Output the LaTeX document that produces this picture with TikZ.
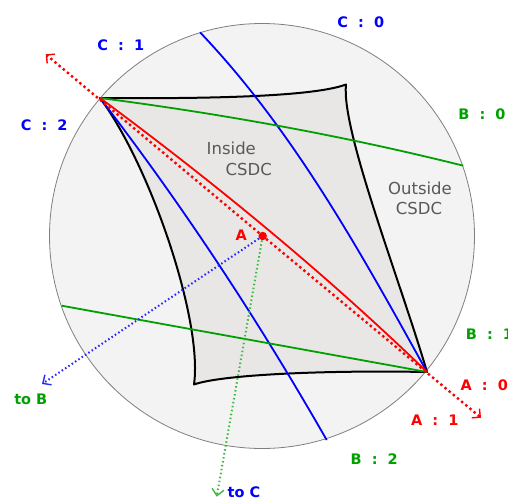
\documentclass[tikz,border=0pt]{standalone}
\usepackage{fontspec}
\setmainfont{DejaVu Sans}
\usetikzlibrary{arrows.meta}
\definecolor{cblue}{HTML}{0000FF}
\definecolor{bgreen}{HTML}{00A000}
\definecolor{ared}{HTML}{FF0000}
\definecolor{rimgray}{HTML}{7F7F7F}
\definecolor{diskfill}{HTML}{F3F3F3}
\definecolor{regionfill}{HTML}{E8E7E6}
\definecolor{textgray}{HTML}{595959}

\begin{document}
\begin{tikzpicture}[
    x=1pt, y=-1pt,
    every node/.style={inner sep=0pt},
    disk/.style={
        circle, draw=rimgray, line width=0.8pt, fill=diskfill,
        minimum size=425pt
    },
    region/.style={
        draw=black, line width=2pt, fill=regionfill, line join=round
    },
    cline/.style={cblue, line width=1.8pt},
    bline/.style={bgreen, line width=1.8pt},
    aline/.style={ared, line width=1.8pt},
    reddots/.style={ared, line width=2.4pt, dash pattern=on 2.4pt off 3pt,
        -{Straight Barb[length=6pt, width=12pt, line width=1.4pt]}},
    bluedots/.style={cblue!85, line width=2pt, dash pattern=on 1.5pt off 2.5pt,
        -{Straight Barb[length=6.5pt, width=12pt, line width=1.4pt]}},
    greendots/.style={bgreen!75, line width=2pt, dash pattern=on 1.5pt off 2.5pt,
        -{Straight Barb[length=6.5pt, width=12pt, line width=1.4pt]}},
    apoint/.style={circle, fill=ared, minimum size=8.5pt},
    cmark/.style={font=\fontsize{14.5}{16}\selectfont\bfseries, text=cblue, anchor=base},
    bmark/.style={font=\fontsize{14.5}{16}\selectfont\bfseries, text=bgreen, anchor=base},
    amark/.style={font=\fontsize{14.5}{16}\selectfont\bfseries, text=ared, anchor=base},
    zonetext/.style={font=\fontsize{16.5}{20}\selectfont, text=textgray, anchor=base},
]
\useasboundingbox (0,0) rectangle (508,500);

% === disk ===
\node[disk] (disk) at (262,236) {};

% === CSDC region ===
\coordinate (P2) at (100,98);
\coordinate (Q1) at (346,84.5);
\coordinate (P0) at (427,372);
\coordinate (Q3) at (194,384.5);
\draw[region] (P2) .. controls (220,99) and (315,96) .. (Q1)
    .. controls (341,130) and (400,280) .. (P0)
    .. controls (320,370) and (220,375) .. (Q3)
    .. controls (203,320) and (150,165) .. cycle;

% points on the rim
\coordinate (C0rim) at (200,32.3);
\coordinate (C1rim) at (326.7,440);
\coordinate (B0rim) at (463.3,165.7);
\coordinate (B2rim) at (61.7,305.7);

% === boundary lines ===
\draw[cline] (C0rim) .. controls (294,131) and (361,253) .. (P0);
\draw[cline] (P2) .. controls (183.4,206.4) and (258.8,321.2) .. (C1rim);
\draw[bline] (P2) .. controls (222,113.8) and (344,135.9) .. (B0rim);
\draw[bline] (B2rim) -- (P0);
\draw[aline] (P2) .. controls (214.2,182.5) and (324.6,273) .. (P0);

% === point A and its directions ===
\node[apoint] (A) at (262.7,236) {};
\coordinate (farNW) at (45.7,54.3);
\coordinate (farSE) at (481,417.7);
\coordinate (farB) at (42,384);
\coordinate (farC) at (216.7,496.7);
\draw[reddots] (A) -- (farNW);
\draw[reddots] (A) -- (farSE);
\draw[bluedots] (A) -- (farB);
\draw[greendots] (A) -- (farC);
\node[amark] (Alabel) at (241.3,240.7) {A};

% === rim labels ===
\node[cmark] (c0) at (360.8,28) {C~~:~~0};
\node[cmark] (c1) at (120.8,51) {C~~:~~1};
\node[cmark] (c2) at (44.2,130) {C~~:~~2};
\node[bmark] (b0) at (482,119) {B~~:~~0};
\node[bmark] (b1) at (489.5,339) {B~~:~~1};
\node[bmark] (b2) at (374.2,464) {B~~:~~2};
\node[amark] (a0) at (484.2,390) {A~~:~~0};
\node[amark] (a1) at (434.8,425.7) {A~~:~~1};
\node[bmark] (toB) at (30.8,404) {to B};
\node[cmark] (toC) at (244,497.5) {to C};

% === zone texts ===
\node[zonetext] (in1) at (231.3,154.3) {Inside};
\node[zonetext] (in2) at (248.7,175.7) {CSDC};
\node[zonetext] (out1) at (420,194.3) {Outside};
\node[zonetext] (out2) at (419,214.7) {CSDC};

\end{tikzpicture}
\end{document}
